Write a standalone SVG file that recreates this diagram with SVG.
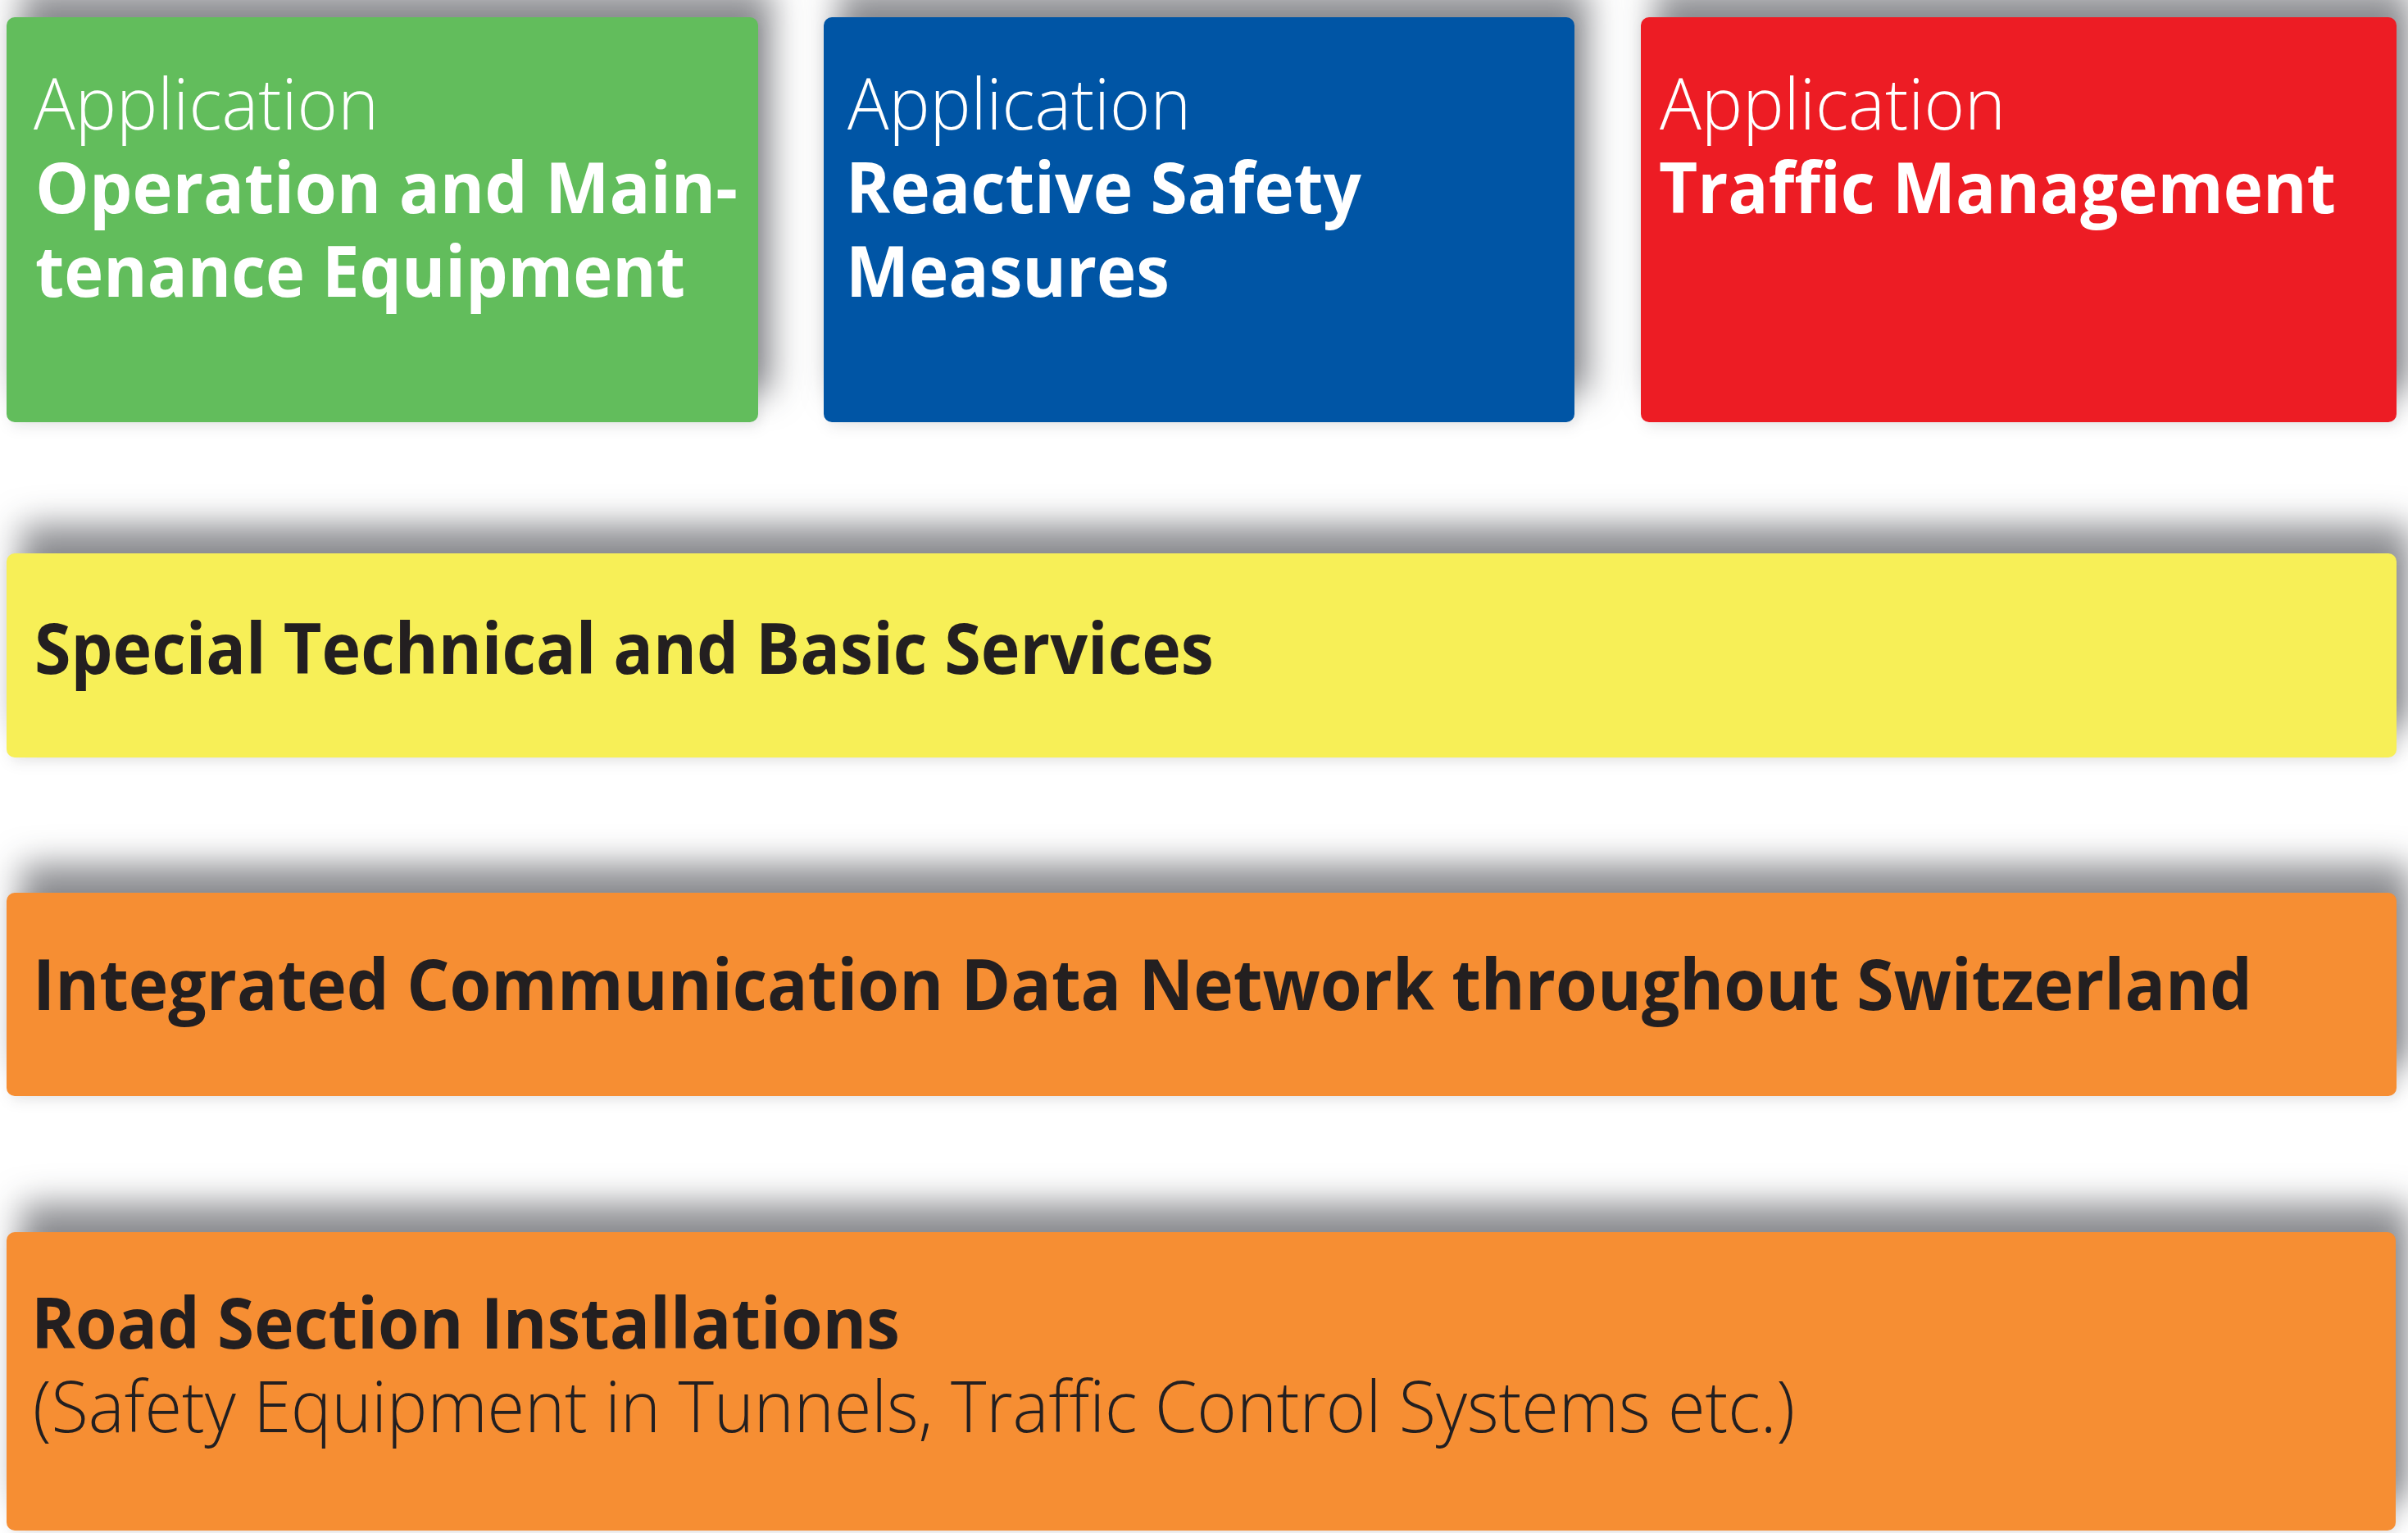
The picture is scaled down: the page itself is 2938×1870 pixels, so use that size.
<svg xmlns="http://www.w3.org/2000/svg" width="2938" height="1870" viewBox="0 0 2938 1870">
  <style>
    .t { font-family: "Open Sans", "Noto Sans", "Liberation Sans", sans-serif; font-size: 86px; }
    .lt { font-weight: 300; }
    .bd { font-weight: 700; }
    .w { fill: #ffffff; }
    .k { fill: #231f20; }
    .box { filter: url(#sh); }
  </style>
  <defs>
    <filter id="sh" x="-0.1" y="-0.5" width="1.2" height="2" color-interpolation-filters="sRGB">
      <feGaussianBlur in="SourceAlpha" stdDeviation="20" result="b"/>
      <feOffset in="b" dx="17" dy="-35" result="o"/>
      <feFlood flood-color="#1c1e26" flood-opacity="0.5"/>
      <feComposite in2="o" operator="in" result="s1"/>
      <feGaussianBlur in="SourceAlpha" stdDeviation="8" result="b2"/>
      <feOffset in="b2" dx="4" dy="6" result="o2"/>
      <feFlood flood-color="#1c1e26" flood-opacity="0.1"/>
      <feComposite in2="o2" operator="in" result="s2"/>
      <feMerge>
        <feMergeNode in="s1"/>
        <feMergeNode in="s2"/>
        <feMergeNode in="SourceGraphic"/>
      </feMerge>
    </filter>
  </defs>
  <rect width="2938" height="1870" fill="#ffffff"/>

  <g id="app-operation-maintenance">
    <rect class="box" x="8" y="21" width="917" height="494" rx="10" fill="#62bd5c"/>
    <text class="t lt w" x="41" y="158" textLength="421" lengthAdjust="spacingAndGlyphs">Application</text>
    <text class="t bd w" x="43" y="260" textLength="857" lengthAdjust="spacingAndGlyphs">Operation and Main-</text>
    <text class="t bd w" x="43" y="362" textLength="793" lengthAdjust="spacingAndGlyphs">tenance Equipment</text>
  </g>

  <g id="app-reactive-safety">
    <rect class="box" x="1005" y="21" width="916" height="494" rx="10" fill="#0055a5"/>
    <text class="t lt w" x="1034" y="158" textLength="419" lengthAdjust="spacingAndGlyphs">Application</text>
    <text class="t bd w" x="1032" y="260" textLength="629" lengthAdjust="spacingAndGlyphs">Reactive Safety</text>
    <text class="t bd w" x="1032" y="362" textLength="395" lengthAdjust="spacingAndGlyphs">Measures</text>
  </g>

  <g id="app-traffic-management">
    <rect class="box" x="2002" y="21" width="922" height="494" rx="10" fill="#ed1c24"/>
    <text class="t lt w" x="2025" y="158" textLength="422" lengthAdjust="spacingAndGlyphs">Application</text>
    <text class="t bd w" x="2024" y="260" textLength="826" lengthAdjust="spacingAndGlyphs">Traffic Management</text>
  </g>

  <g id="special-technical-basic-services">
    <rect class="box" x="8" y="675" width="2916" height="249" rx="10" fill="#f7ef57"/>
    <text class="t bd k" x="42" y="822" textLength="1439" lengthAdjust="spacingAndGlyphs">Special Technical and Basic Services</text>
  </g>

  <g id="communication-data-network">
    <rect class="box" x="8" y="1089" width="2916" height="248" rx="10" fill="#f68e33"/>
    <text class="t bd k" x="40" y="1232" textLength="2708" lengthAdjust="spacingAndGlyphs">Integrated Communication Data Network throughout Switzerland</text>
  </g>

  <g id="road-section-installations">
    <rect class="box" x="8" y="1503" width="2915" height="364" rx="10" fill="#f68e33"/>
    <text class="t bd k" x="38" y="1645" textLength="1060" lengthAdjust="spacingAndGlyphs">Road Section Installations</text>
    <text class="t lt k" x="40" y="1747" textLength="2150" lengthAdjust="spacingAndGlyphs">(Safety Equipment in Tunnels, Traffic Control Systems etc.)</text>
  </g>

  <g id="connectors"/>
</svg>
